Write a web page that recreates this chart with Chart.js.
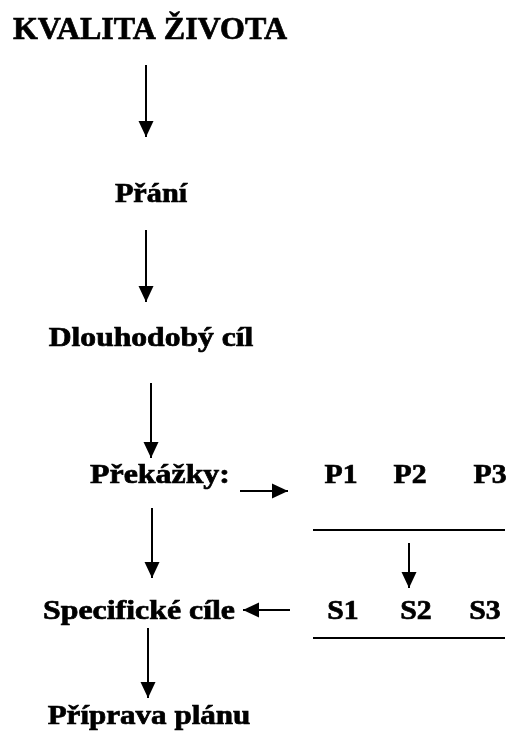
<!DOCTYPE html>
<html>
<head>
<meta charset="utf-8">
<script src="https://cdn.jsdelivr.net/npm/chart.js@4"></script>
<style>
  html, body { margin: 0; padding: 0; background: #fff; }
</style>
</head>
<body>
<canvas id="flow" width="513" height="737"></canvas>
<script>
// diagram nodes (page units, y grows downward)
const nodeLabels = ['KVALITA ŽIVOTA', 'Přání', 'Dlouhodobý cíl', 'Překážky:', 'P1', 'P2', 'P3', 'Specifické cíle', 'S1', 'S2', 'S3', 'Příprava plánu'];
const nodeX = [150, 151, 151, 160, 341, 410, 490, 139, 343, 416, 485, 149];
const nodeY = [31, 195, 339, 476, 476, 476, 476, 612, 612, 612, 612, 717];
const nodeSize = [32, 27, 27, 27, 27, 27, 27, 27, 27, 27, 27, 27];
const nodeStretch = [1, 1.12, 1.17, 1.18, 1.1, 1.1, 1.1, 1.18, 1.1, 1.1, 1.1, 1.15];

// arrows: start -> tip
const arrowStart = [[146, 65], [146, 230], [151, 383], [240, 491], [152, 508], [409, 543], [290, 610], [148, 628]];
const arrowTip = [[146, 137], [146, 302], [151, 458], [288, 491], [152, 578], [409, 588], [243, 610], [148, 698]];

// rules under P and S rows
const ruleY = [530, 638];
const ruleX = [313, 505];

const datasets = [];
arrowStart.forEach((s, i) => {
    datasets.push({
        type: 'line',
        data: [{x: s[0], y: s[1]}, {x: arrowTip[i][0], y: arrowTip[i][1]}],
        borderColor: '#000',
        borderWidth: 2,
        pointRadius: 0,
        arrow: true
    });
});
ruleY.forEach(y => {
    datasets.push({
        type: 'line',
        data: [{x: ruleX[0], y: y}, {x: ruleX[1], y: y}],
        borderColor: '#000',
        borderWidth: 2,
        pointRadius: 0
    });
});

const arrowHeads = {
    id: 'arrowHeads',
    afterDatasetsDraw(chart) {
        const c = chart.ctx;
        const xs = chart.scales.x, ys = chart.scales.y;
        c.save();
        c.fillStyle = '#000';
        chart.data.datasets.forEach(ds => {
            if (!ds.arrow) return;
            const a = ds.data[0], b = ds.data[1];
            const x0 = xs.getPixelForValue(a.x), y0 = ys.getPixelForValue(a.y);
            const x1 = xs.getPixelForValue(b.x), y1 = ys.getPixelForValue(b.y);
            const ang = Math.atan2(y1 - y0, x1 - x0);
            const len = 16, half = 7.5;
            c.beginPath();
            c.moveTo(x1, y1);
            c.lineTo(x1 - len * Math.cos(ang) + half * Math.sin(ang), y1 - len * Math.sin(ang) - half * Math.cos(ang));
            c.lineTo(x1 - len * Math.cos(ang) - half * Math.sin(ang), y1 - len * Math.sin(ang) + half * Math.cos(ang));
            c.closePath();
            c.fill();
        });

        // labels, a touch wider and heavier than the plain font like the scan
        c.textAlign = 'center';
        c.textBaseline = 'middle';
        c.strokeStyle = '#000';
        c.lineWidth = 0.7;
        nodeLabels.forEach((t, i) => {
            c.save();
            c.translate(xs.getPixelForValue(nodeX[i]), ys.getPixelForValue(nodeY[i]));
            c.scale(nodeStretch[i], 1);
            c.font = 'bold ' + nodeSize[i] + 'px "Liberation Serif", "DejaVu Serif", serif';
            c.fillText(t, 0, 0);
            c.strokeText(t, 0, 0);
            c.restore();
        });
        c.restore();
    }
};

new Chart(document.getElementById('flow'), {
    type: 'scatter',
    data: { datasets: datasets },
    options: {
        responsive: false,
        animation: false,
        layout: { padding: 0 },
        plugins: {
            legend: { display: false },
            tooltip: { enabled: false }
        },
        scales: {
            x: { type: 'linear', min: 0, max: 513, display: false },
            y: { type: 'linear', min: 0, max: 737, reverse: true, display: false }
        }
    },
    plugins: [arrowHeads]
});
</script>
</body>
</html>
